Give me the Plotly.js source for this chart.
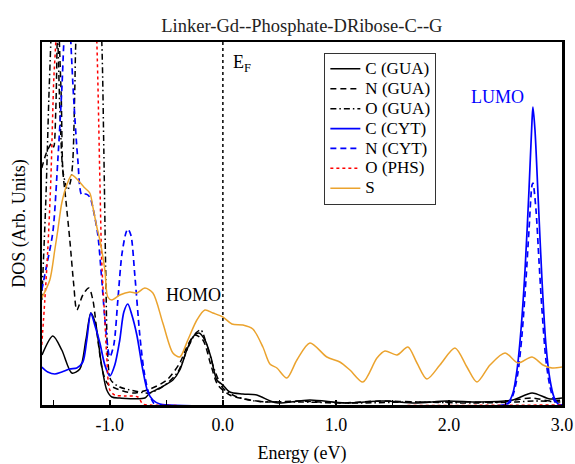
<!DOCTYPE html>
<html>
<head>
<meta charset="utf-8">
<script src="https://cdn.plot.ly/plotly-3.0.1.min.js"></script>
<style>html,body{margin:0;padding:0;background:#fff;}#chart{width:575px;height:464px;}</style>
</head>
<body>
<div id="chart"></div>
<script>
// Energy (eV) and DOS (arb. units)
const cGuaE = [-1.600,-1.504,-1.425,-1.336,-1.265,-1.212,-1.168,-1.124,-1.080,-1.027,-0.982,-0.912,-0.690,-0.646,-0.558,-0.442,-0.381,-0.319,-0.265,-0.212,-0.159,-0.106,-0.053,0.000,0.062,0.177,0.300,0.420,0.487,0.770,1.080,1.416,1.700,1.980,2.270,2.566,2.735,2.894,3.000];
const cGuaV = [5.0,6.9,5.5,3.2,3.6,6.5,9.2,8.0,4.5,1.5,0.8,0.7,0.7,1.2,1.7,2.5,3.5,5.5,6.8,7.2,6.5,4.8,2.5,2.0,1.3,1.1,1.0,0.4,0.2,0.5,0.2,0.4,0.2,0.4,0.3,0.5,1.2,0.6,0.7];

const nGuaE = [-1.602,-1.558,-1.513,-1.496,-1.478,-1.466,-1.456,-1.446,-1.429,-1.416,-1.389,-1.354,-1.319,-1.292,-1.239,-1.186,-1.150,-1.106,-1.062,-1.018,-0.956,-0.796,-0.646,-0.496,-0.381,-0.319,-0.248,-0.177,-0.106,-0.044,0.062,0.195,0.372,0.681,1.035,1.389,1.743,2.097,2.451,2.584,2.735,2.894,3.000];
const nGuaV = [23.7,25.3,26.2,25.8,29.5,36.3,42.0,36.3,30.5,23.5,20.5,16.5,12.0,9.5,11.0,11.7,10.5,6.5,3.3,2.1,1.7,1.2,1.6,2.5,4.2,5.8,7.0,6.5,4.0,2.0,1.0,0.6,0.3,0.4,0.2,0.4,0.3,0.3,0.3,0.5,0.7,0.4,0.5];

const oGuaE = [-1.602,-1.566,-1.540,-1.522,-1.500,-1.460,-1.442,-1.416,-1.389,-1.372,-1.345,-1.327,-1.310,-1.301,-1.265,-1.177,-1.106,-1.071,-1.053,-1.035,-1.018,-0.991,-0.912,-0.779,-0.646,-0.513,-0.398,-0.310,-0.239,-0.195,-0.142,-0.080,0.000,0.106,0.283,0.700,1.200,1.700,2.200,2.600,2.750,3.000];
const oGuaV = [10.5,20.5,30.5,36.3,44.0,36.3,29.5,23.5,22.0,21.5,22.5,24.5,31.5,36.3,44.0,48.0,44.0,36.3,25.5,12.5,4.8,2.5,1.8,1.4,1.2,2.0,3.3,5.7,7.2,7.5,6.0,3.7,1.7,0.9,0.4,0.3,0.2,0.3,0.2,0.3,0.4,0.3];

const cCytE = [-1.602,-1.549,-1.487,-1.425,-1.354,-1.292,-1.239,-1.204,-1.168,-1.133,-1.088,-1.044,-1.000,-0.956,-0.912,-0.876,-0.841,-0.805,-0.761,-0.708,-0.664,-0.619,-0.558,-0.469,2.478,2.522,2.566,2.602,2.637,2.673,2.708,2.735,2.743,2.761,2.788,2.823,2.858,2.894,2.929,2.965,3.000];
const cCytV = [3.8,3.3,3.1,3.3,3.6,3.7,4.3,6.5,9.2,8.0,6.2,4.0,2.9,4.0,6.5,9.3,10.1,9.0,7.0,3.5,1.3,0.5,0.1,0.0,0.0,0.2,1.2,3.5,7.5,13.5,21.5,28.5,29.8,27.5,21.0,12.5,6.0,2.5,0.8,0.1,0.0];

const nCytE = [-1.602,-1.558,-1.504,-1.460,-1.425,-1.407,-1.376,-1.345,-1.319,-1.283,-1.248,-1.212,-1.177,-1.142,-1.106,-1.071,-1.035,-1.000,-0.965,-0.929,-0.894,-0.858,-0.841,-0.814,-0.779,-0.735,-0.699,-0.664,-0.628,-0.593,2.496,2.540,2.575,2.611,2.646,2.681,2.708,2.735,2.743,2.770,2.796,2.823,2.858,2.894,2.929,2.965,3.000];
const nCytV = [11.5,14.0,17.3,24.5,31.5,36.3,44.0,36.3,30.5,24.5,21.0,21.1,20.8,19.3,17.0,12.5,7.5,4.8,6.0,10.5,15.0,17.2,17.6,17.0,13.0,7.0,3.5,1.5,0.5,0.0,0.0,0.3,1.3,3.3,7.0,12.5,17.5,22.0,22.2,19.5,14.5,9.5,4.5,1.8,0.5,0.0,0.0];

const oPhsE = [-1.602,-1.575,-1.549,-1.522,-1.496,-1.478,-1.442,-1.301,-1.159,-1.115,-1.088,-1.071,-1.044,-1.027,-1.000,-0.956,-0.867,-0.752,-0.708,-0.646,3.000];
const oPhsV = [6.0,10.5,15.5,22.5,32.5,36.3,48.0,44.0,48.0,36.3,22.5,14.2,8.5,4.8,1.5,1.0,0.9,0.8,0.1,0.0,0.0];

const sE = [-1.602,-1.531,-1.487,-1.460,-1.425,-1.381,-1.336,-1.283,-1.230,-1.177,-1.150,-1.115,-1.088,-1.044,-1.018,-0.982,-0.912,-0.823,-0.761,-0.690,-0.619,-0.531,-0.442,-0.381,-0.310,-0.230,-0.159,-0.088,0.000,0.080,0.177,0.265,0.354,0.416,0.478,0.566,0.655,0.770,0.920,1.035,1.124,1.239,1.363,1.434,1.540,1.637,1.717,1.805,1.920,2.053,2.159,2.248,2.363,2.496,2.611,2.735,2.832,2.912,3.000];
const sV = [10.7,12.5,15.5,17.5,20.2,22.0,23.0,22.5,21.8,21.2,19.8,17.8,16.5,13.5,10.8,10.5,11.0,11.3,11.2,11.7,11.2,8.2,5.2,4.8,6.5,8.5,9.5,9.2,8.8,8.1,8.0,7.6,5.8,4.1,3.7,2.7,4.5,6.2,4.8,4.3,3.5,2.3,4.7,5.4,5.0,5.8,4.2,2.6,4.0,5.7,3.8,2.3,4.0,5.2,4.2,4.8,4.0,3.7,3.8];

const seriesNames = ["C (GUA)","N (GUA)","O (GUA)","C (CYT)","N (CYT)","O (PHS)","S"];
const tickVals = [-1.0,0.0,1.0,2.0,3.0];
const tickText = ["-1.0","0.0","1.0","2.0","3.0"];

const serif = "Liberation Serif, Times New Roman, serif";
function tr(x, y, name, color, dash, w) {
  return {x: x, y: y, name: '<span style="font-size:17px">' + name + '</span>', type: "scatter", mode: "lines",
    line: {color: color, dash: dash, width: w, shape: "spline", smoothing: 0.8}};
}
const data = [
  tr(cGuaE, cGuaV, seriesNames[0], "#000000", "solid", 1.5),
  tr(nGuaE, nGuaV, seriesNames[1], "#000000", "6px,4px", 1.5),
  tr(oGuaE, oGuaV, seriesNames[2], "#000000", "6px,3px,1.5px,3px", 1.5),
  tr(cCytE, cCytV, seriesNames[3], "#0000ff", "solid", 1.7),
  tr(nCytE, nCytV, seriesNames[4], "#0000ff", "6px,4px", 1.7),
  tr(oPhsE, oPhsV, seriesNames[5], "#ff0000", "dot", 1.5),
  tr(sE, sV, seriesNames[6], "#eba32e", "solid", 1.5)
];

const layout = {
  width: 575, height: 464,
  margin: {l: 42, r: 13, t: 42, b: 59},
  paper_bgcolor: "#fff", plot_bgcolor: "#fff",
  font: {family: serif, size: 18, color: "#000"},
  title: {text: "Linker-Gd--Phosphate-DRibose-C--G", font: {family: serif, size: 18.5, color: "#222"}, x: 0.525, xanchor: "center", y: 0.946, yanchor: "middle"},
  showlegend: true,
  legend: {x: 0.543, y: 0.97, xanchor: "left", yanchor: "top", bgcolor: "#fff", bordercolor: "#333", borderwidth: 1,
    font: {family: serif, size: 13, color: "#000"}, itemwidth: 30, tracegroupgap: 0},
  xaxis: {range: [-1.6, 3.0], showgrid: false, zeroline: false, showline: true, linewidth: 2.5, linecolor: "#000", mirror: true,
    tickmode: "array", tickvals: tickVals, ticktext: tickText, ticks: "inside", ticklen: 5, tickwidth: 1.5, tickcolor: "#000",
    minor: {tickmode: "linear", tick0: 0, dtick: 0.5, ticks: "inside", ticklen: 5, tickwidth: 1.5, tickcolor: "#000", showgrid: false},
    tickfont: {family: serif, size: 18}, ticklabelstandoff: 2,
    title: {text: "Energy (eV)", font: {family: serif, size: 18}, standoff: 13}},
  yaxis: {range: [0, 36.3], showgrid: false, zeroline: false, showline: true, linewidth: 2.5, linecolor: "#000", mirror: true,
    showticklabels: false, ticks: "",
    title: {text: "DOS (Arb. Units)", font: {family: serif, size: 18}, standoff: 9}},
  shapes: [{type: "line", xref: "x", yref: "paper", x0: 0, x1: 0, y0: 0, y1: 1, line: {color: "#000", width: 1.5, dash: "dot"}}],
  annotations: [
    {x: 0.07, y: 0.94, xref: "x", yref: "paper", text: "E<sub>F</sub>", showarrow: false, xanchor: "left", yanchor: "middle", font: {family: serif, size: 18}},
    {x: -0.26, y: 11.0, xref: "x", yref: "y", text: "HOMO", showarrow: false, xanchor: "center", yanchor: "middle", font: {family: serif, size: 18}},
    {x: 2.43, y: 30.8, xref: "x", yref: "y", text: "LUMO", showarrow: false, xanchor: "center", yanchor: "middle", font: {family: serif, size: 18, color: "#0000ff"}}
  ]
};
Plotly.newPlot("chart", data, layout, {staticPlot: true, displayModeBar: false});
</script>
</body>
</html>
